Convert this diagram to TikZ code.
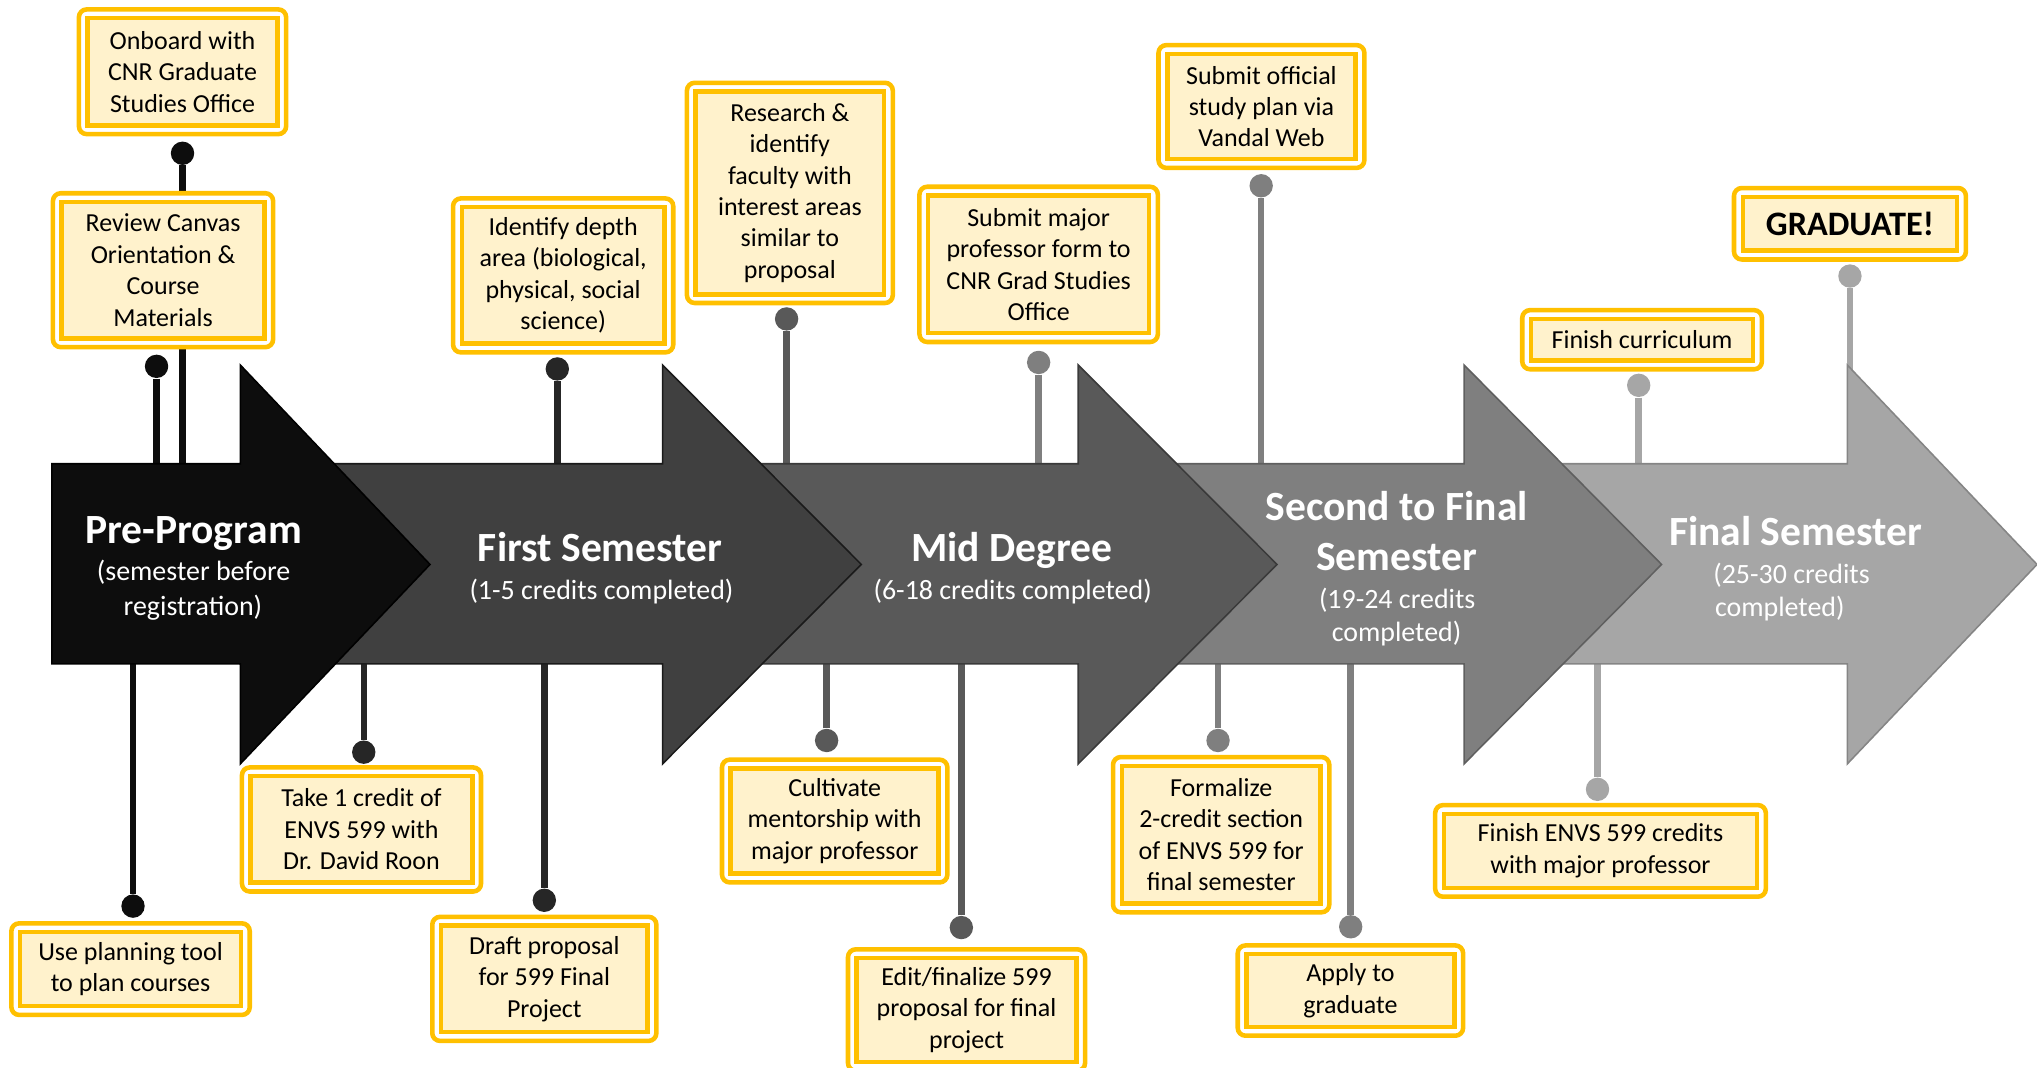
\documentclass[tikz,border=0pt]{standalone}
\usepackage{fontspec}
\setmainfont{Carlito}
\usetikzlibrary{calc}
\definecolor{gold}{HTML}{FFC000}
\definecolor{cream}{HTML}{FFF2CC}
\definecolor{cA}{HTML}{0D0D0D}
\definecolor{cB}{HTML}{404040}
\definecolor{cC}{HTML}{595959}
\definecolor{cD}{HTML}{7F7F7F}
\definecolor{cE}{HTML}{A6A6A6}
\definecolor{sB}{HTML}{262626}
\tikzset{
  outerbox/.style={draw=gold, line width=1.75pt, fill=white, rounded corners=3pt},
  innerbox/.style={draw=gold, line width=1.75pt, fill=cream, inner sep=0pt, align=center,
    font=\fontsize{10}{12.1}\selectfont, text=black},
  chevshape/.style={line width=0.6pt, line join=miter},
  ttl/.style={anchor=base, text=white, font=\bfseries\fontsize{16}{19.5}\selectfont},
  subttl/.style={anchor=base, text=white, font=\fontsize{10.75}{13}\selectfont},
  dotnode/.style={circle, minimum size=9pt, inner sep=0pt, fill=#1},
  stemline/.style={line width=2.5pt, draw=#1},
}
\newcommand\tbox[6]{%
  \draw[outerbox] ({#2+1.75},{#3+1.75}) rectangle ({#4-1.75},{#5-1.75});
  \node[innerbox, minimum width={(#4-#2-17)*0.5pt}, minimum height={(#5-#3-17)*0.5pt}]
    (#1) at ({(#2+#4)/2},{(#3+#5)/2}) {#6};
}
\newcommand\chevron[5]{%
  \filldraw[chevshape, fill=#1, draw=#2] ({#3},357) -- ({#4},357) -- ({#4},281) -- ({#5},434.5)
    -- ({#4},588) -- ({#4},511) -- ({#3},511) -- cycle;
}
\begin{document}
\begin{tikzpicture}[x=0.5pt, y=-0.5pt]
\useasboundingbox (0,0) rectangle (1568,822);
\clip (0,0) rectangle (1568,822);
\coordinate (axis) at (0,434.5);

% dots and stems
\node[dotnode=cA] (p1) at (140.5,118) {};
\node[dotnode=cA] (p2) at (120.5,282) {};
\node[dotnode=sB] (p3) at (429,284) {};
\node[dotnode=cC] (p4) at (605.5,245.5) {};
\node[dotnode=cD] (p5) at (799.5,279) {};
\node[dotnode=cD] (p6) at (970.8,143) {};
\node[dotnode=cE] (p7) at (1261.4,296.6) {};
\node[dotnode=cE] (p8) at (1424,212.5) {};
\node[dotnode=cA] (q1) at (102.4,697.5) {};
\node[dotnode=sB] (q2) at (280,579) {};
\node[dotnode=sB] (q3) at (419,693) {};
\node[dotnode=cC] (q4) at (636.3,570) {};
\node[dotnode=cC] (q5) at (740,714) {};
\node[dotnode=cD] (q6) at (937.6,570) {};
\node[dotnode=cD] (q7) at (1039.7,713.4) {};
\node[dotnode=cE] (q8) at (1229.7,607.6) {};

\draw[stemline=cA] (p1) -- (p1 |- axis);
\draw[stemline=cA] (p2) -- (p2 |- axis);
\draw[stemline=sB] (p3) -- (p3 |- axis);
\draw[stemline=cC] (p4) -- (p4 |- axis);
\draw[stemline=cD] (p5) -- (p5 |- axis);
\draw[stemline=cD] (p6) -- (p6 |- axis);
\draw[stemline=cE] (p7) -- (p7 |- axis);
\draw[stemline=cE] (p8) -- (p8 |- axis);
\draw[stemline=cA] (q1) -- (q1 |- axis);
\draw[stemline=sB] (q2) -- (q2 |- axis);
\draw[stemline=sB] (q3) -- (q3 |- axis);
\draw[stemline=cC] (q4) -- (q4 |- axis);
\draw[stemline=cC] (q5) -- (q5 |- axis);
\draw[stemline=cD] (q6) -- (q6 |- axis);
\draw[stemline=cD] (q7) -- (q7 |- axis);
\draw[stemline=cE] (q8) -- (q8 |- axis);

% chevrons, back to front
\chevron{cE}{cE!80!black}{1127}{1422}{1568}
\chevron{cD}{cD!75!black}{830}{1127}{1279}
\chevron{cC}{cC!65!black}{510}{830}{983}
\chevron{cB}{cB!40!black}{185}{510}{663}
\chevron{cA}{black}{40}{185}{331}

% titles
\node[ttl] (t1) at (149,418) {Pre-Program};
\node[subttl] (t1a) at (149,447) {(semester before};
\node[subttl] (t1b) at (148.5,473.5) {registration)};
\node[ttl] (t2) at (462,432.4) {First Semester};
\node[subttl] (t2a) at (463,461.4) {(1-5 credits completed)};
\node[ttl] (t3) at (779,432.4) {Mid Degree};
\node[subttl] (t3a) at (779.5,461.4) {(6-18 credits completed)};
\node[ttl] (t4) at (1075,400.3) {Second to Final};
\node[ttl] (t4b) at (1075,439.3) {Semester};
\node[subttl] (t4c) at (1075.5,468.3) {(19-24 credits};
\node[subttl] (t4d) at (1075,494) {completed)};
\node[ttl] (t5) at (1382,419.6) {Final Semester};
\node[subttl] (t5a) at (1379,449) {(25-30 credits};
\node[subttl] (t5b) at (1370,474.3) {completed)};

% boxes
\tbox{b1}{59}{5.5}{222}{105}{Onboard with\\CNR Graduate\\Studies Office}
\tbox{b2}{39}{147}{212}{269}{Review Canvas\\Orientation \&\\Course\\Materials}
\tbox{b3}{347}{151}{520}{273}{Identify depth\\area (biological,\\physical, social\\science)}
\tbox{b4}{527}{62}{689}{235}{Research \&\\identify\\faculty with\\interest areas\\similar to\\proposal}
\tbox{b5}{706}{142}{893}{265}{Submit major\\professor form to\\CNR Grad Studies\\Office}
\tbox{b6}{890}{33}{1052}{131}{Submit official\\study plan via\\Vandal Web}
\tbox{b7}{1333}{143}{1515}{201.5}{{\bfseries\fontsize{13.2}{16}\selectfont GRADUATE!}}
\tbox{b8}{1170}{237}{1358}{286}{Finish curriculum}
\tbox{b9}{7}{709}{194}{783}{Use planning tool\\to plan courses}
\tbox{b10}{184.5}{589}{372}{688}{Take 1 credit of\\ENVS 599 with\\Dr. David Roon}
\tbox{b11}{331}{704}{507}{803}{Draft proposal\\for 599 Final\\Project}
\tbox{b12}{554}{583}{731}{681}{Cultivate\\mentorship with\\major professor}
\tbox{b13}{651}{729}{837}{826}{Edit/finalize 599\\proposal for final\\project}
\tbox{b14}{855}{581}{1025}{704}{Formalize\\2-credit section\\of ENVS 599 for\\final semester}
\tbox{b15}{951}{726}{1128}{799}{Apply to\\graduate}
\tbox{b16}{1103}{618}{1361}{692}{Finish ENVS 599 credits\\with major professor}
\end{tikzpicture}
\end{document}
